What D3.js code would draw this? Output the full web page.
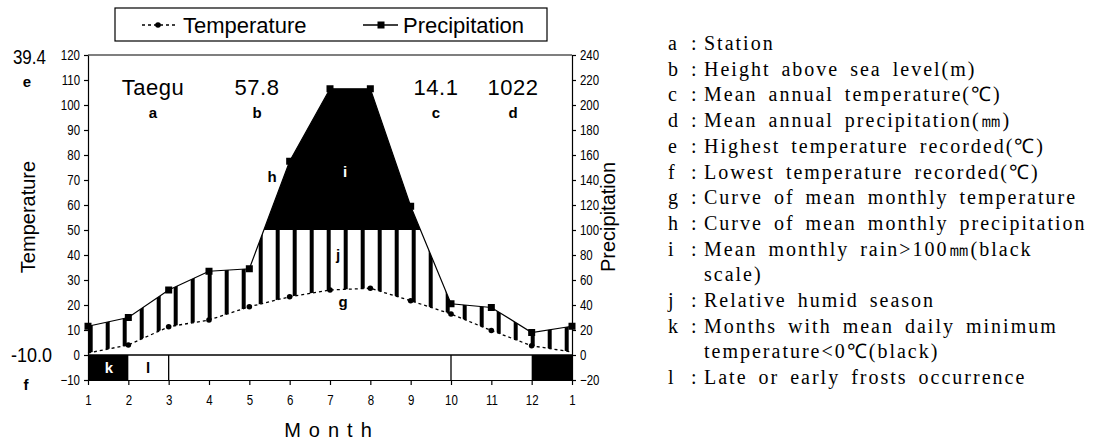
<!DOCTYPE html>
<html><head><meta charset="utf-8">
<script src="https://cdn.jsdelivr.net/npm/d3@7"></script>
<style>
body{margin:0;background:#fff;}
svg{display:block;}
.tick text{font-family:"Liberation Sans",Arial,sans-serif;font-size:14px;fill:#000;}
.tick line, .domain{stroke:#000;stroke-width:1.2;}
</style></head>
<body>
<svg id="c" width="1099" height="447"></svg>
<script>
// ---- data ----
const monthLabels = ["1","2","3","4","5","6","7","8","9","10","11","12","1"];
const temperature = [0.8, 4, 11.3, 14, 19.3, 23.3, 26, 26.7, 21.7, 16.4, 9.8, 3.7, 1.2];
const precipitation = [23, 30, 52, 67, 69, 155, 213, 213, 119, 41, 38, 18, 23];
const frostBlack = [[0,1],[11,12]];      // k : months with mean daily min < 0
const frostLines = [2, 9];               // boundaries of late/early frost period
const stationInfo = [
  {label:"Taegu", key:"a", x:153},
  {label:"57.8", key:"b", x:257},
  {label:"14.1", key:"c", x:436},
  {label:"1022", key:"d", x:513}
];
const highestT = "39.4", lowestT = "-10.0";
const tempTicks = [-10,0,10,20,30,40,50,60,70,80,90,100,110,120];
const precTicks = [-20,0,20,40,60,80,100,120,140,160,180,200,220,240];
const notes = [
  ["a","Station"],
  ["b","Height above sea level(m)"],
  ["c","Mean annual temperature(\u2103)"],
  ["d","Mean annual precipitation(\u339C)"],
  ["e","Highest temperature recorded(\u2103)"],
  ["f","Lowest temperature recorded(\u2103)"],
  ["g","Curve of mean monthly temperature"],
  ["h","Curve of mean monthly precipitation"],
  ["i","Mean monthly rain>100\u339C(black"],
  ["","scale)"],
  ["j","Relative humid season"],
  ["k","Months with mean daily minimum"],
  ["","temperature<0\u2103(black)"],
  ["l","Late or early frosts occurrence"]
];

const svg = d3.select("#c");
const L=88, R=572, T=55, B=380;
const x = d3.scaleLinear().domain([0,12]).range([L,R]);
const yT = d3.scaleLinear().domain([-10,120]).range([B,T]);
const yP = d3.scaleLinear().domain([-20,240]).range([B,T]);
const idx = d3.range(monthLabels.length);
const SANS = "'Liberation Sans',Arial,sans-serif";
const SERIF = "'Liberation Serif','Times New Roman',serif";

// defs
const defs = svg.append("defs");
const pat = defs.append("pattern").attr("id","hatch").attr("patternUnits","userSpaceOnUse")
  .attr("x",L+0.7).attr("y",0).attr("width",17).attr("height",10);
pat.append("rect").attr("x",0).attr("y",0).attr("width",4).attr("height",10).attr("fill","#000");
const y100 = yP(100);
defs.append("clipPath").attr("id","above100").append("rect").attr("x",L).attr("y",0).attr("width",R-L).attr("height",y100);
defs.append("clipPath").attr("id","below100").append("rect").attr("x",L).attr("y",y100).attr("width",R-L).attr("height",B-y100);

// humid season hatch
svg.append("path").datum(idx)
  .attr("clip-path","url(#below100)")
  .attr("fill","url(#hatch)")
  .attr("d", d3.area().x(i=>x(i)).y0(i=>yT(temperature[i])).y1(i=>yP(precipitation[i])));
// black > 100 mm
svg.append("path").datum(idx)
  .attr("clip-path","url(#above100)")
  .attr("fill","#000")
  .attr("d", d3.area().x(i=>x(i)).y0(y100).y1(i=>yP(precipitation[i])));

// precipitation line
svg.append("path").datum(idx).attr("fill","none").attr("stroke","#000").attr("stroke-width",1.2)
  .attr("d", d3.line().x(i=>x(i)).y(i=>yP(precipitation[i])));
svg.selectAll(".psq").data(idx).join("rect").attr("class","psq")
  .attr("x",i=>x(i)-3.5).attr("y",i=>yP(precipitation[i])-3.5).attr("width",7).attr("height",7).attr("fill","#000");

// temperature line
svg.append("path").datum(idx).attr("fill","none").attr("stroke","#000").attr("stroke-width",1.3)
  .attr("stroke-dasharray","3,3")
  .attr("d", d3.line().x(i=>x(i)).y(i=>yT(temperature[i])));
svg.selectAll(".tdot").data(idx.slice(1,12)).join("circle").attr("class","tdot")
  .attr("cx",i=>x(i)).attr("cy",i=>yT(temperature[i])).attr("r",2.8).attr("fill","#000");

// frost strip
svg.selectAll(".kbox").data(frostBlack).join("rect").attr("class","kbox")
  .attr("x",d=>x(d[0])).attr("y",yT(0)).attr("width",d=>x(d[1])-x(d[0])).attr("height",yT(-10)-yT(0)).attr("fill","#000");
svg.selectAll(".fl").data(frostLines).join("line").attr("class","fl")
  .attr("x1",d=>x(d)).attr("x2",d=>x(d)).attr("y1",yT(0)).attr("y2",yT(-10)).attr("stroke","#000").attr("stroke-width",1.3);
svg.append("line").attr("x1",L).attr("x2",R).attr("y1",yT(0)).attr("y2",yT(0)).attr("stroke","#000").attr("stroke-width",1.3);
svg.append("line").attr("x1",L).attr("x2",R).attr("y1",T).attr("y2",T).attr("stroke","#000").attr("stroke-width",1.2);

// axes
const gl = svg.append("g").attr("transform",`translate(${L},0)`)
  .call(d3.axisLeft(yT).tickValues(tempTicks).tickSize(4).tickPadding(3).tickSizeOuter(0));
const gr = svg.append("g").attr("transform",`translate(${R},0)`)
  .call(d3.axisRight(yP).tickValues(precTicks).tickSize(4).tickPadding(4).tickSizeOuter(0));
const gb = svg.append("g").attr("transform",`translate(0,${B})`)
  .call(d3.axisBottom(x).tickValues(idx).tickFormat(i=>monthLabels[i]).tickSize(5).tickPadding(10).tickSizeOuter(0));
[gl,gr,gb].forEach(g=>g.selectAll(".tick text").attr("transform","scale(0.82,1)"));
gl.selectAll(".tick text").attr("x",-8/0.82);
gr.selectAll(".tick text").attr("x",8/0.82);

// axis titles
svg.append("text").attr("transform","translate(35,217) rotate(-90)").attr("text-anchor","middle")
  .style("font-family",SANS).style("font-size","20px").text("Temperature");
svg.append("text").attr("transform","translate(615,217) rotate(-90)").attr("text-anchor","middle")
  .style("font-family",SANS).style("font-size","20px").text("Precipitation");
svg.append("text").attr("x",332).attr("y",437).attr("text-anchor","middle")
  .style("font-family",SANS).style("font-size","20px").style("letter-spacing","8px").text("Month");

// station info
const si = svg.selectAll(".si").data(stationInfo).join("g").attr("class","si");
si.append("text").attr("x",d=>d.x).attr("y",95).attr("text-anchor","middle")
  .style("font-family",SANS).style("font-size","22px").style("letter-spacing","0.5px").text(d=>d.label);
si.append("text").attr("x",d=>d.x).attr("y",118).attr("text-anchor","middle")
  .style("font-family",SANS).style("font-size","15px").style("font-weight","bold").text(d=>d.key);

// extremes
svg.append("text").attr("transform","translate(46,64) scale(0.85,1)").attr("text-anchor","end").style("font-family",SANS).style("font-size","20px").text(highestT);
svg.append("text").attr("x",27).attr("y",87).attr("text-anchor","middle").style("font-family",SANS).style("font-size","15px").style("font-weight","bold").text("e");
svg.append("text").attr("transform","translate(52,362) scale(0.9,1)").attr("text-anchor","end").style("font-family",SANS).style("font-size","20px").text(lowestT);
svg.append("text").attr("x",26).attr("y",390).attr("text-anchor","middle").style("font-family",SANS).style("font-size","15px").style("font-weight","bold").text("f");

// in-plot labels
const inl = [["h",272,182,"#000"],["i",345,177,"#fff"],["j",338,260,"#000"],["g",343,307,"#000"],["k",109,373,"#fff"],["l",148,373,"#000"]];
svg.selectAll(".inl").data(inl).join("text").attr("class","inl")
  .attr("x",d=>d[1]).attr("y",d=>d[2]).attr("text-anchor","middle").attr("fill",d=>d[3])
  .style("font-family",SANS).style("font-size","15px").style("font-weight","bold").text(d=>d[0]);

// legend
svg.append("rect").attr("x",115).attr("y",8).attr("width",432).attr("height",33).attr("fill","none").attr("stroke","#000").attr("stroke-width",1.2);
svg.append("line").attr("x1",142).attr("x2",175).attr("y1",25).attr("y2",25).attr("stroke","#000").attr("stroke-width",1.3).attr("stroke-dasharray","3,3");
svg.append("circle").attr("cx",158).attr("cy",25).attr("r",2.8).attr("fill","#000");
svg.append("text").attr("x",183).attr("y",33).style("font-family",SANS).style("font-size","22px").text("Temperature");
svg.append("line").attr("x1",363).attr("x2",398).attr("y1",25).attr("y2",25).attr("stroke","#000").attr("stroke-width",1.3);
svg.append("rect").attr("x",377.5).attr("y",21.5).attr("width",7).attr("height",7).attr("fill","#000");
svg.append("text").attr("x",403).attr("y",33).style("font-family",SANS).style("font-size","22px").text("Precipitation");

// notes
const ng = svg.selectAll(".note").data(notes).join("g").attr("class","note")
  .attr("transform",(d,i)=>`translate(0,${50+i*25.7})`);
ng.append("text").attr("x",668).style("font-family",SERIF).style("font-size","20px").text(d=>d[0]);
ng.append("text").attr("x",691).style("font-family",SERIF).style("font-size","20px").text(d=>d[0]?":":"");
ng.append("text").attr("x",704).style("font-family",SERIF).style("font-size","20px").style("word-spacing","4px").style("letter-spacing","2px").text(d=>d[1]);
</script>
</body></html>
